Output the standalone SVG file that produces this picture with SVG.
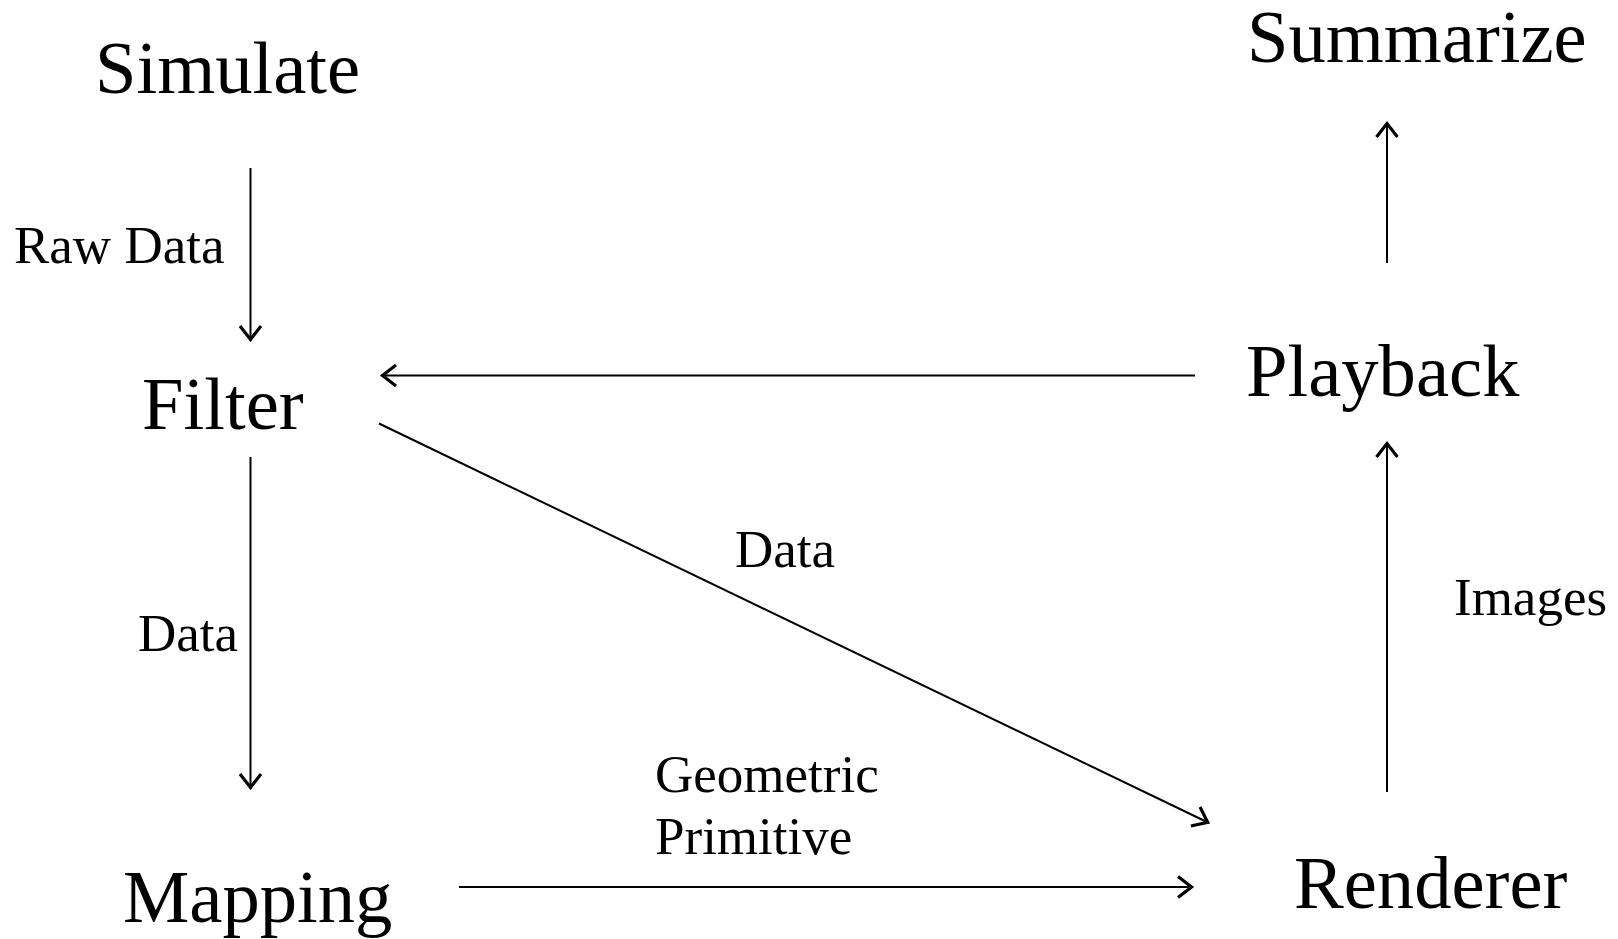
<svg xmlns="http://www.w3.org/2000/svg" width="1618" height="939" viewBox="0 0 1618 939">
<style>
.node{font-family:"Liberation Serif","Times New Roman",serif;font-size:74.6px;fill:#000}
.lbl{font-family:"Liberation Serif","Times New Roman",serif;font-size:53px;fill:#000}
.edge{stroke:#000;stroke-width:2;fill:none;marker-end:url(#arr)}
</style>
<defs>
<marker id="arr" markerUnits="userSpaceOnUse" markerWidth="40" markerHeight="40" viewBox="-20 -20 40 40" refX="0" refY="0" orient="auto">
<path d="M-15,-10.5 L-1.5,0 L-15,10.5" fill="none" stroke="#000" stroke-width="3.2" stroke-linejoin="miter"/>
</marker>
</defs>
<rect width="1618" height="939" fill="#fff"/>
<g id="connectors">
<line class="edge" x1="250.5" y1="168" x2="250.5" y2="341"/>
<line class="edge" x1="250.5" y1="457" x2="250.5" y2="789"/>
<line class="edge" x1="1195" y1="375.5" x2="381" y2="375.5"/>
<line class="edge" x1="379" y1="423.5" x2="1209" y2="823"/>
<line class="edge" x1="459" y1="887" x2="1193" y2="887"/>
<line class="edge" x1="1387" y1="792" x2="1387" y2="442"/>
<line class="edge" x1="1387" y1="263" x2="1387" y2="122"/>
</g>
<g id="edge-labels">
<text class="lbl" x="14" y="263">Raw Data</text>
<text class="lbl" x="138" y="651">Data</text>
<text class="lbl" x="735" y="567">Data</text>
<text class="lbl" x="1454" y="615">Images</text>
<text class="lbl" x="655" y="792">Geometric</text>
<text class="lbl" x="655" y="854">Primitive</text>
</g>
<g id="simulate"><text class="node" x="95" y="93">Simulate</text></g>
<g id="summarize"><text class="node" x="1247" y="62">Summarize</text></g>
<g id="filter"><text class="node" x="142" y="429">Filter</text></g>
<g id="playback"><text class="node" x="1246" y="396">Playback</text></g>
<g id="mapping"><text class="node" x="123" y="922">Mapping</text></g>
<g id="renderer"><text class="node" x="1294" y="908">Renderer</text></g>
</svg>
